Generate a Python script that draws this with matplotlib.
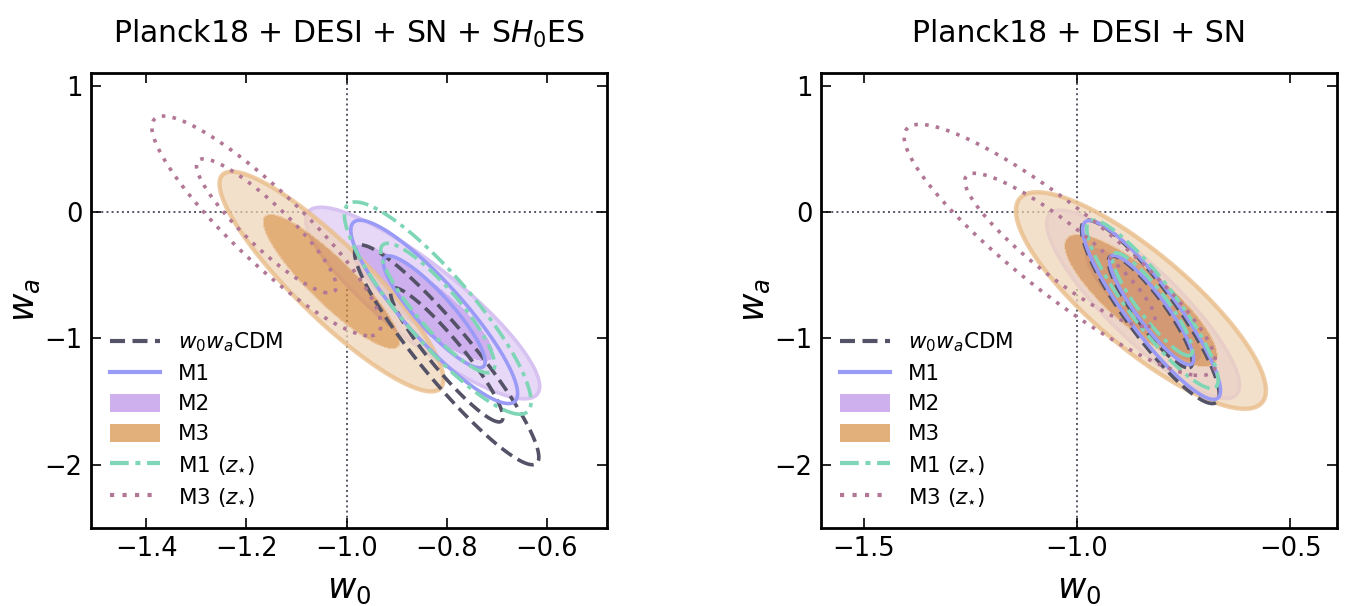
import numpy as np
import matplotlib
matplotlib.use("Agg")
import matplotlib.pyplot as plt
from matplotlib.lines import Line2D
from matplotlib.patches import Patch

# ──────────────────────────────────────────────────────────────────────────────
# Posterior summaries: (w0 mean, wa mean, sig_w0, sig_wa, rho)
# ──────────────────────────────────────────────────────────────────────────────
models = ["w0waCDM", "M1", "M2", "M3", "M1z", "M3z"]
labels = [r"$w_0w_a$CDM", "M1", "M2", "M3", r"M1 ($z_{\star}$)", r"M3 ($z_{\star}$)"]

# Planck18 + DESI + SN + SH0ES
shoes_w0  = [-0.800, -0.825, -0.848, -1.030, -0.818, -1.160]
shoes_wa  = [-1.130, -0.790, -0.720, -0.550, -0.760, -0.110]
shoes_sx  = [0.074, 0.067, 0.094, 0.090, 0.075, 0.092]
shoes_sy  = [0.350, 0.292, 0.305, 0.350, 0.338, 0.350]
shoes_rho = [-0.93, -0.89, -0.87, -0.89, -0.88, -0.90]

# Planck18 + DESI + SN
base_w0  = [-0.828, -0.825, -0.845, -0.850, -0.823, -1.040]
base_wa  = [-0.790, -0.775, -0.730, -0.700, -0.730, -0.300]
base_sx  = [0.065, 0.065, 0.091, 0.118, 0.062, 0.147]
base_sy  = [0.292, 0.285, 0.300, 0.345, 0.268, 0.400]
base_rho = [-0.90, -0.90, -0.86, -0.83, -0.90, -0.90]

titles = [r"Planck18 + DESI + SN + S$H_0$ES", "Planck18 + DESI + SN"]
xlims = [(-1.51, -0.48), (-1.6, -0.39)]
xticks = [[-1.4, -1.2, -1.0, -0.8, -0.6], [-1.5, -1.0, -0.5]]
ylim = (-2.5, 1.1)
yticks = [-2, -1, 0, 1]

C_DASH = "#545266"
C_M1 = "#9a9af7"
C_M2 = ["#cfb0ee", "#e7d8f7"]
C_M2_EDGE = "#d8c2f2"
C_M3 = ["#d68e41", "#efd4b5"]      # drawn with alpha over M2
C_M3_EDGE = "#e9bc88"
C_M3_LEG = "#e2b07a"
C_M1Z = "#7fd6b6"
C_M3Z = "#b27796"

DASHED = (0, (3.6, 1.8))
DASHDOT = (0, (4.5, 1.6, 1.2, 1.6))
DOTTED = (0, (1, 2.0))

LEVELS = [2.30, 6.17]   # 68% / 95% for 2 params


def chi2_grid(ax, mx, my, sx, sy, rho):
    x0, x1 = ax.get_xlim()
    y0, y1 = ax.get_ylim()
    X, Y = np.meshgrid(np.linspace(x0, x1, 500), np.linspace(y0, y1, 500))
    dx = (X - mx) / sx
    dy = (Y - my) / sy
    Z = (dx ** 2 - 2 * rho * dx * dy + dy ** 2) / (1 - rho ** 2)
    return X, Y, Z


def draw_panel(ax, w0, wa, sx, sy, rho, title, xl, xt):
    ax.set_xlim(*xl)
    ax.set_ylim(*ylim)
    p = {m: (w0[i], wa[i], sx[i], sy[i], rho[i]) for i, m in enumerate(models)}

    ax.axvline(-1.0, color="#555566", ls=":", lw=1.4, zorder=1)
    ax.axhline(0.0, color="#555566", ls=":", lw=1.4, zorder=1)

    # filled contours: M2 underneath, M3 semi-transparent on top
    X, Y, Z = chi2_grid(ax, *p["M2"])
    ax.contourf(X, Y, Z, levels=[0, LEVELS[0], LEVELS[1]],
                colors=C_M2, zorder=2)
    ax.contour(X, Y, Z, levels=[LEVELS[1]], colors=C_M2_EDGE, linewidths=2.6, zorder=2)
    X, Y, Z = chi2_grid(ax, *p["M3"])
    ax.contourf(X, Y, Z, levels=[0, LEVELS[0], LEVELS[1]],
                colors=C_M3, alpha=0.7, zorder=3)
    ax.contour(X, Y, Z, levels=[LEVELS[1]], colors=C_M3_EDGE, linewidths=3.2,
               alpha=0.75, zorder=3)

    # line contours
    for m, col, ls in [("w0waCDM", C_DASH, DASHED),
                       ("M1", C_M1, "-"),
                       ("M1z", C_M1Z, DASHDOT),
                       ("M3z", C_M3Z, DOTTED)]:
        X, Y, Z = chi2_grid(ax, *p[m])
        ax.contour(X, Y, Z, levels=LEVELS, colors=col, linewidths=2.6,
                   linestyles=[ls, ls], zorder=4)

    ax.set_title(title, fontsize=21.5, pad=22)
    ax.set_xlabel(r"$w_0$", fontsize=25, labelpad=7)
    ax.set_ylabel(r"$w_a$", fontsize=25, labelpad=2)
    ax.set_xticks(xt)
    ax.set_yticks(yticks)
    ax.tick_params(direction="in", top=True, right=True, length=7, width=1.2,
                   labelsize=18.5, pad=6)
    for s in ax.spines.values():
        s.set_linewidth(2.0)

    handles = [Line2D([], [], color=C_DASH, lw=3, ls=DASHED),
               Line2D([], [], color=C_M1, lw=3),
               Patch(facecolor=C_M2[0], edgecolor="none"),
               Patch(facecolor=C_M3_LEG, edgecolor="none"),
               Line2D([], [], color=C_M1Z, lw=3, ls=DASHDOT),
               Line2D([], [], color=C_M3Z, lw=3, ls=DOTTED)]
    ax.legend(handles, labels, loc="lower left", frameon=False, fontsize=15.5,
              handlelength=2.3, handleheight=0.9, labelspacing=0.45,
              borderaxespad=0.5, handletextpad=0.85)


fig = plt.figure(figsize=(13.46, 6.06), dpi=100)
ax1 = fig.add_axes([0.0676, 0.1287, 0.3834, 0.7508])
ax2 = fig.add_axes([0.6100, 0.1287, 0.3834, 0.7508])

draw_panel(ax1, shoes_w0, shoes_wa, shoes_sx, shoes_sy, shoes_rho,
           titles[0], xlims[0], xticks[0])
draw_panel(ax2, base_w0, base_wa, base_sx, base_sy, base_rho,
           titles[1], xlims[1], xticks[1])

fig.savefig("out.png", dpi=100)
